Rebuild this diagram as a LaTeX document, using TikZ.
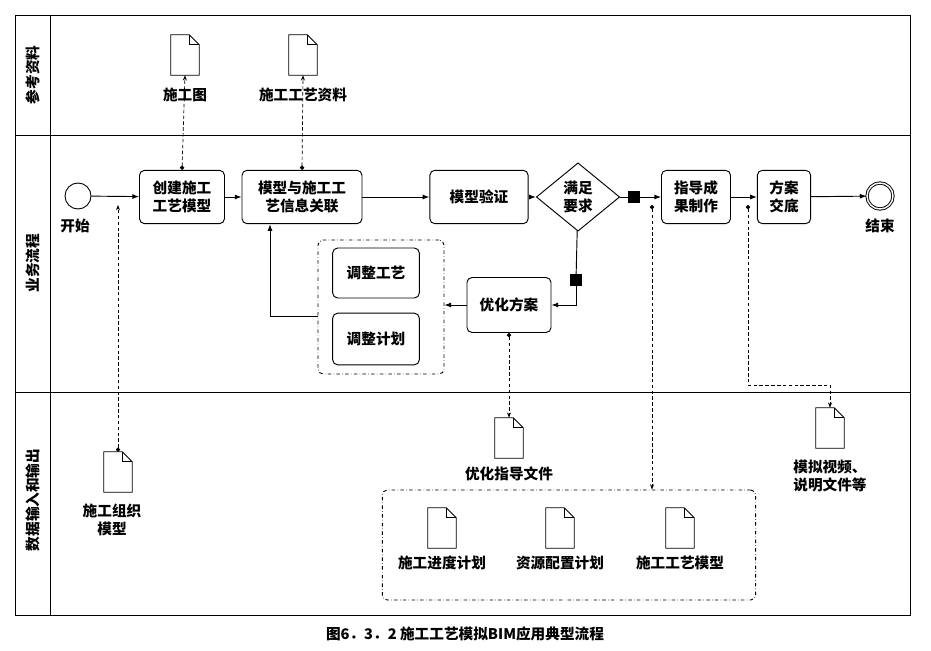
\documentclass[tikz,border=0pt]{standalone}
\usepackage{fontspec}
\setmainfont{Noto Sans CJK SC}[BoldFont={Noto Sans CJK SC Black}]
\usetikzlibrary{shapes.geometric,arrows.meta}
\tikzset{
  txt/.style={font=\fontsize{12.5}{15.5}\selectfont\bfseries},
  task/.style={draw,rounded corners=1.5mm,thick,align=center,txt,inner sep=0pt},
  doc/.style={minimum width=0.84cm,minimum height=1.2cm,inner sep=0pt},
  lbl/.style={align=center,txt},
  flow/.style={thick,-{Latex[length=2mm]}},
  assoc/.style={densely dashed,semithick,{Circle[length=1.3mm]}-{Stealth[length=1.6mm]}},
  grp/.style={draw,dash dot,thick,rounded corners=1.5mm},
}
\begin{document}
\begin{tikzpicture}[x=0.03cm,y=-0.03cm]
\useasboundingbox (0,0) rectangle (931,651);
% lanes
\draw[thick] (15,15) rectangle (910,615);
\draw[thick] (50,15) -- (50,615) (15,135) -- (910,135) (15,392) -- (910,392);
\node[lbl,rotate=90] (l1) at (33,75) {参考资料};
\node[lbl,rotate=90] (l2) at (33,263) {业务流程};
\node[lbl,rotate=90] (l3) at (33,500) {数据输入和输出};
\node[lbl] (cap) at (465,634) {图6．3．2 施工工艺模拟BIM应用典型流程};
% groups
\node[grp,minimum width=3.78cm,minimum height=4.02cm] (g1) at (381,307) {};
\node[grp,minimum width=11.2cm,minimum height=3.3cm] (g2) at (569,545) {};
% events and tasks
\node[draw,thick,circle,minimum size=0.78cm] (start) at (78,196) {};
\node[lbl] (startl) at (75,226) {开始};
\node[draw,thick,circle,minimum size=0.78cm,double,double distance=1.2pt] (end) at (880,196) {};
\node[lbl] (endl) at (880,226) {结束};
\node[task,minimum width=2.55cm,minimum height=1.6cm] (t1) at (182,197) {创建施工\\工艺模型};
\node[task,minimum width=3.6cm,minimum height=1.6cm] (t2) at (302,197) {模型与施工工\\艺信息关联};
\node[task,minimum width=2.95cm,minimum height=1.6cm] (t3) at (479,197) {模型验证};
\node[draw,thick,diamond,aspect=1.25,minimum width=2.5cm,minimum height=2.05cm,inner sep=0pt,align=center,txt] (gw) at (578,197) {满足\\要求};
\node[task,minimum width=2.07cm,minimum height=1.6cm] (t4) at (696,197) {指导成\\果制作};
\node[task,minimum width=1.6cm,minimum height=1.6cm] (t5) at (784,197) {方案\\交底};
\node[task,minimum width=2.52cm,minimum height=1.65cm] (t6) at (509,305) {优化方案};
\node[task,minimum width=2.6cm,minimum height=1.5cm] (a1) at (376,273) {调整工艺};
\node[task,minimum width=2.6cm,minimum height=1.55cm] (a2) at (376,339) {调整计划};
\node[fill,minimum size=0.36cm,inner sep=0pt] (m1) at (634,197) {};
\node[fill,minimum size=0.36cm,inner sep=0pt] (m2) at (576,280) {};
\coordinate (c1) at (270,316);
\coordinate (c2) at (118,205);
\coordinate (c3) at (652,205);
\coordinate (c4) at (748,205);
\coordinate (c5) at (748,385);
% documents
\node[doc] (d1) at (185,55) {};
\node[lbl] (d1l) at (185,95) {施工图};
\node[doc] (d2) at (303,55) {};
\node[lbl] (d2l) at (303,95) {施工工艺资料};
\node[doc] (d3) at (118,472) {};
\node[lbl] (d3l) at (112,520) {施工组织\\模型};
\node[doc] (d4) at (509,438) {};
\node[lbl] (d4l) at (509,474) {优化指导文件};
\node[doc] (d5) at (830,428) {};
\node[lbl] (d5l) at (830,476) {模拟视频、\\说明文件等};
\node[doc] (d6) at (442,528) {};
\node[lbl] (d6l) at (442,563) {施工进度计划};
\node[doc] (d7) at (560,528) {};
\node[lbl] (d7l) at (560,563) {资源配置计划};
\node[doc] (d8) at (680,528) {};
\node[lbl] (d8l) at (680,563) {施工工艺模型};
\foreach \d in {d1,d2,d3,d4,d5,d6,d7,d8} {
  \draw[thick,fill=white] (\d.south west) -- (\d.north west) -- ([xshift=-0.3cm]\d.north east)
    -- ([yshift=-0.3cm]\d.north east) -- (\d.south east) -- cycle;
  \draw[thick] ([xshift=-0.3cm]\d.north east) |- ([yshift=-0.3cm]\d.north east);
}
% sequence flows
\draw[flow] (start) -- (t1);
\draw[flow] (t1) -- (t2);
\draw[flow] (t2) -- (t3);
\draw[flow] (t3) -- (gw);
\draw[thick] (gw) -- (m1);
\draw[flow] (m1) -- (t4);
\draw[flow] (t4) -- (t5);
\draw[flow] (t5) -- (end);
\draw[thick] (gw) -- (m2);
\draw[flow] (m2) |- (t6);
\draw[flow] (t6) -- (g1.east |- t6);
\draw[flow] (g1.west |- c1) -- (c1) -- (c1 |- t2.south);
% associations
\draw[assoc] (t1.north) -- (d1.south);
\draw[assoc] (t2.north) -- (d2.south);
\draw[assoc] (d3.north) -- (c2);
\draw[assoc] (t6.south) -- (d4.north);
\draw[assoc] (c3) -- (c3 |- g2.north);
\draw[assoc] (c4) -- (c5) -| (d5.north);
\end{tikzpicture}
\end{document}
